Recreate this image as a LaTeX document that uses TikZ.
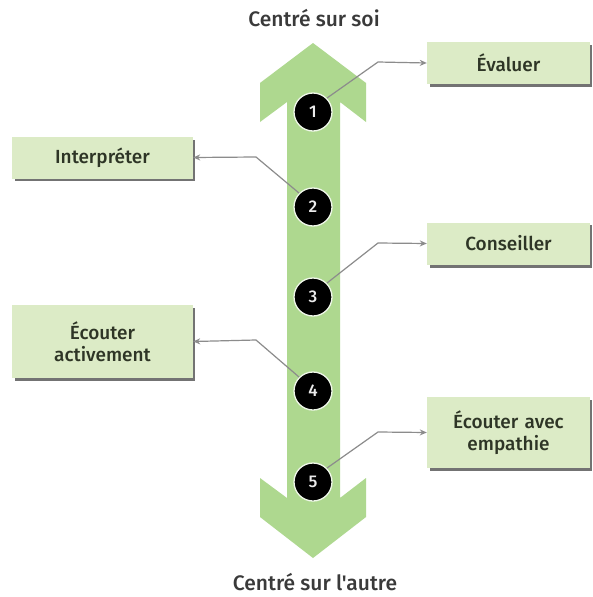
\documentclass[tikz,border=0pt]{standalone}
\usepackage{fontspec}
\setmainfont{Fira Sans Medium}
% same face without the TeX quote mapping, so the apostrophe stays straight
\newfontfamily\polefont{Fira Sans Medium}
\usetikzlibrary{arrows.meta}
\definecolor{arrowgreen}{HTML}{AED88F}
\definecolor{boxgreen}{HTML}{DCEBC6}
\definecolor{inkdark}{HTML}{2E3526}
\definecolor{polegray}{HTML}{3A3A3A}
\definecolor{linegray}{HTML}{8C8C8C}
\tikzset{
  label box/.style={fill=boxgreen, draw=none, minimum height=42pt, text width=150pt,
    align=center, font=\fontsize{19}{22}\selectfont, text=inkdark, inner sep=0pt},
  shadow under/.style={fill=black!55},
  step dot/.style={circle, fill=black, draw=white!80!arrowgreen, line width=1.3pt,
    minimum size=38pt, inner sep=0pt, text=white!92!black, font=\fontsize{17}{17}\selectfont},
  pointer/.style={draw=linegray, line width=1.2pt, -{Stealth[length=7pt,width=6pt]}},
  pole/.style={font=\polefont\fontsize{21}{24}\selectfont, text=polegray}
}
\begin{document}
\begin{tikzpicture}[x=1pt,y=-1pt]
\useasboundingbox (0,0) rectangle (593,597);
\fill[white] (0,0) rectangle (593,597);

% double-headed vertical arrow
\fill[arrowgreen] (313,43) -- (260,83) -- (260,122) -- (287,102) -- (287,498)
  -- (260,478) -- (260,517) -- (313,558) -- (366,517) -- (366,478) -- (340,498)
  -- (340,102) -- (366,122) -- (366,83) -- cycle;

% pole labels
\node[pole] (top) at (314,18) {Centré sur soi};
\node[pole] (bottom) at (315,582) {Centré sur l'autre};

% shadows of the label boxes
\fill[shadow under] (430,45) rectangle (592,87);
\fill[shadow under] (15,140) rectangle (195,181);
\fill[shadow under] (430,225) rectangle (592,268);
\fill[shadow under] (15,308) rectangle (195,381);
\fill[shadow under] (430,400) rectangle (592,471);

% label boxes
\node[label box, minimum width=163pt] (eval) at (508.5,63) {Évaluer};
\node[label box, minimum width=181pt] (interp) at (102.5,157.5) {Interpréter};
\node[label box, minimum width=163pt] (cons) at (508.5,243.5) {Conseiller};
\node[label box, minimum width=181pt, minimum height=73pt] (actif) at (102.5,341.5) {Écouter\\activement};
\node[label box, minimum width=163pt, minimum height=71pt] (empat) at (508.5,432.5) {Écouter avec\\empathie};

% numbered steps
\node[step dot] (c1) at (313,112) {1};
\node[step dot] (c2) at (313,207) {2};
\node[step dot] (c3) at (313,297) {3};
\node[step dot] (c4) at (313,391) {4};
\node[step dot] (c5) at (313,482) {5};

% bend points of the pointers
\coordinate (k1) at (378,62);
\coordinate (k2) at (256,157);
\coordinate (k3) at (378,243);
\coordinate (k4) at (256,340);
\coordinate (k5) at (378,432);

\draw[pointer] (c1.45) -- (k1) -- (eval.west);
\draw[pointer] (c2.135) -- (k2) -- (interp.east);
\draw[pointer] (c3.45) -- (k3) -- (cons.west);
\draw[pointer] (c4.135) -- (k4) -- (actif.east);
\draw[pointer] (c5.45) -- (k5) -- (empat.west);
\end{tikzpicture}
\end{document}
